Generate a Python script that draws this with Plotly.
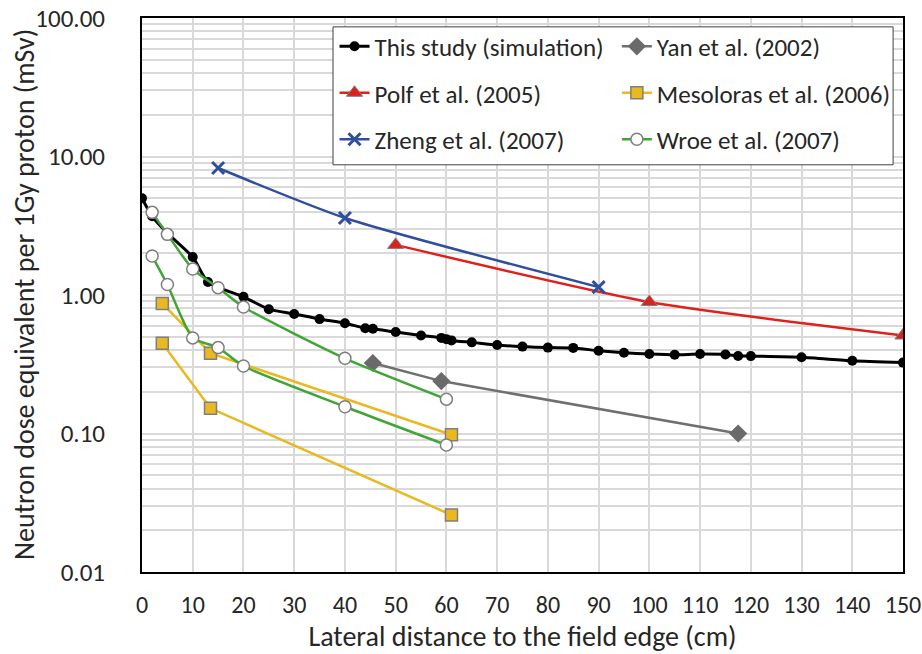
import plotly.graph_objects as go

# ---- data ----
sim_x = [0, 2, 5, 10, 13, 20, 25, 30, 35, 40, 44, 45.5, 50, 55, 59, 60, 61, 65, 70, 75,
         80, 85, 90, 95, 100, 105, 110, 115, 117.5, 120, 130, 140, 150]
sim_y = [5.0, 3.7, 2.8, 1.88, 1.24, 0.97, 0.79, 0.73, 0.67, 0.625, 0.575, 0.57, 0.54,
         0.51, 0.49, 0.48, 0.47, 0.455, 0.435, 0.424, 0.417, 0.415, 0.396, 0.383, 0.375,
         0.37, 0.375, 0.372, 0.363, 0.362, 0.355, 0.335, 0.325]

yan_x = [45.5, 59, 117.5]
yan_y = [0.323, 0.239, 0.100]

polf_x = [50, 100, 150]
polf_y = [2.30, 0.89, 0.51]

meso_x = [4, 13.5, 61, None, 4, 13.5, 61]
meso_y = [0.87, 0.38, 0.098, None, 0.448, 0.152, 0.0258]

zheng_x = [15, 40, 90]
zheng_y = [8.26, 3.60, 1.14]

wroe_x = [2, 5, 10, 15, 20, 40, 60, None, 2, 5, 10, 15, 20, 40, 60]
wroe_y = [3.95, 2.74, 1.54, 1.13, 0.82, 0.349, 0.177, None,
          1.91, 1.19, 0.49, 0.417, 0.307, 0.156, 0.0826]

x_ticks = list(range(0, 151, 10))
y_tickvals = [0.01, 0.1, 1, 10, 100]
y_ticktext = ["0.01", "0.10", "1.00", "10.00", "100.00"]

X_TITLE = "Lateral distance to the field edge (cm)"
Y_TITLE = "Neutron dose equivalent per 1Gy proton (mSv)"

FONT = "Carlito, Calibri, Lato, sans-serif"
TXT = "#262626"
GRAY_EDGE = "#7f7f7f"

fig = go.Figure()

def add(x, y, name, color, lw, marker, legend, group, shape="linear"):
    fig.add_trace(go.Scatter(
        x=x, y=y, name=name, mode="lines+markers",
        line=dict(color=color, width=lw, shape=shape, smoothing=0.6),
        marker=marker, legend=legend, legendgroup=group, connectgaps=False))

add(sim_x, sim_y, "This study (simulation)", "#000000", 3,
    dict(symbol="circle", size=10, color="#000000"), "legend", "g1", "spline")
add(yan_x, yan_y, "Yan et al. (2002)", "#6f6f6f", 2.5,
    dict(symbol="diamond", size=14, color="#6a6a6a"), "legend2", "g2")
add(polf_x, polf_y, "Polf et al. (2005)", "#e0211b", 2.5,
    dict(symbol="triangle-up", size=14, color="#d9231c", line=dict(color=GRAY_EDGE, width=1)),
    "legend", "g3", "spline")
add(meso_x, meso_y, "Mesoloras et al. (2006)", "#eab820", 2.5,
    dict(symbol="square", size=12, color="#eab820", line=dict(color=GRAY_EDGE, width=1.5)),
    "legend2", "g4")
add(zheng_x, zheng_y, "Zheng et al. (2007)", "#2f4e9c", 2.5,
    dict(symbol="x-thin", size=12, color="#2f4e9c", line=dict(color="#2f4e9c", width=3)),
    "legend", "g5", "spline")
add(wroe_x, wroe_y, "Wroe et al. (2007)", "#3fa535", 2.5,
    dict(symbol="circle", size=12, color="#ffffff", line=dict(color=GRAY_EDGE, width=1.5)),
    "legend2", "g6", "spline")

minor_vals = [m * 10 ** k for k in range(-2, 2) for m in range(2, 10)]

fig.update_layout(
    width=922, height=654,
    margin=dict(l=142, r=19, t=18, b=82),
    paper_bgcolor="white", plot_bgcolor="white",
    font=dict(family=FONT, size=24, color=TXT),
    xaxis=dict(
        range=[0, 150], tickmode="array", tickvals=x_ticks, automargin=False,
        showgrid=True, gridcolor="#d9d9d9", gridwidth=1.5,
        showline=True, linecolor="#000000", linewidth=2, mirror=True,
        ticks="", ticklabelstandoff=10, zeroline=False, ticklabeloverflow="allow",
        tickfont=dict(family=FONT, size=24, color=TXT),
        title=dict(text=X_TITLE, font=dict(family=FONT, size=28, color=TXT), standoff=12),
    ),
    yaxis=dict(
        type="log", range=[-2, 2], tickmode="array", automargin=False,
        tickvals=y_tickvals, ticktext=y_ticktext, ticklabeloverflow="allow",
        showgrid=True, gridcolor="#d9d9d9", gridwidth=1.5,
        minor=dict(tickmode="array", tickvals=minor_vals, showgrid=True,
                   gridcolor="#d9d9d9", gridwidth=1.5, ticks=""),
        showline=True, linecolor="#000000", linewidth=2, mirror=True,
        ticks="", ticklabelstandoff=30, zeroline=False,
        tickfont=dict(family=FONT, size=25, color=TXT),
    ),
    annotations=[dict(text=Y_TITLE, xref="paper", yref="paper", x=-0.155, y=0.5,
                      xanchor="center", yanchor="middle", textangle=-90, showarrow=False,
                      font=dict(family=FONT, size=28, color=TXT))],
    legend=dict(x=0.253, y=0.99, xanchor="left", yanchor="top",
                bgcolor="rgba(0,0,0,0)", borderwidth=0, tracegroupgap=11,
                itemwidth=30, font=dict(family=FONT, size=25, color=TXT)),
    legend2=dict(x=0.624, y=0.99, xanchor="left", yanchor="top",
                 bgcolor="rgba(0,0,0,0)", borderwidth=0, tracegroupgap=11,
                 itemwidth=30, font=dict(family=FONT, size=25, color=TXT)),
    shapes=[dict(type="rect", xref="paper", yref="paper",
                 x0=0.251, x1=0.987, y0=0.735, y1=0.984,
                 line=dict(color="#404040", width=1), fillcolor="white", layer="above")],
)

# remove the browser's default page margin so the 922x654 figure fills the window exactly
fig.write_html("out.html", config={"displayModeBar": False},
               post_script="document.body.style.margin='0';document.body.style.overflow='hidden';")
